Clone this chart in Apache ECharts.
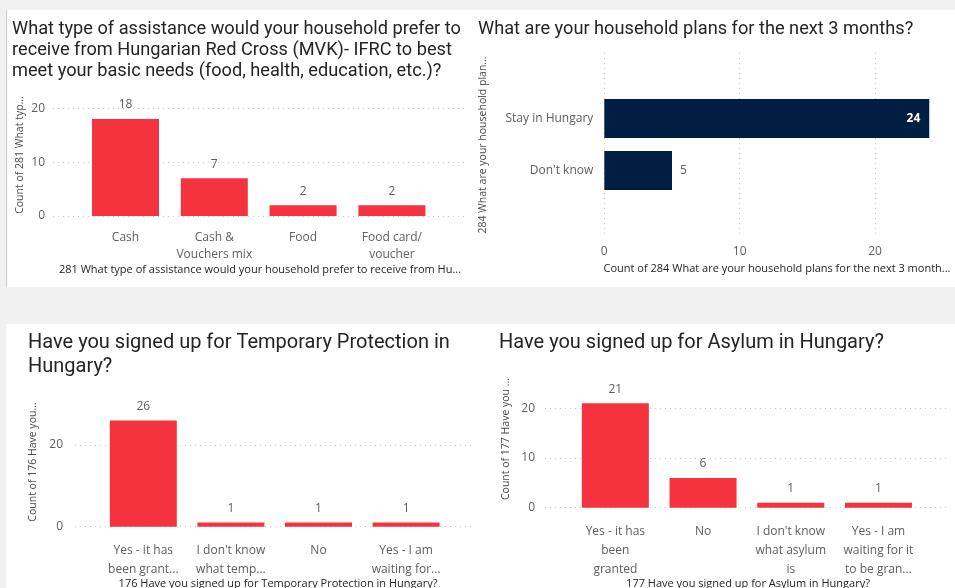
<!DOCTYPE html>
<html>
<head>
<meta charset="utf-8">
<script src="https://cdn.jsdelivr.net/npm/echarts@6/dist/echarts.min.js"></script>
<style>
  html, body { margin: 0; padding: 0; background: #f0f0f0; }
  #main { width: 955px; height: 588px; }
</style>
</head>
<body>
<div id="main"></div>
<script>
// Survey answers, one set of arrays per visual
const assistCategories = ['Cash', 'Cash &\nVouchers mix', 'Food', 'Food card/\nvoucher'];
const assistCounts = [18, 7, 2, 2];

const planCategories = ['Stay in Hungary', "Don't know"];
const planCounts = [24, 5];

const tempCategories = ['Yes - it has\nbeen grant...', "I don't know\nwhat temp...", 'No', 'Yes - I am\nwaiting for...'];
const tempCounts = [26, 1, 1, 1];

const asylumCategories = ['Yes - it has\nbeen\ngranted', 'No', "I don't know\nwhat asylum\nis", 'Yes - I am\nwaiting for it\nto be gran...'];
const asylumCounts = [21, 6, 1, 1];

const titles = [
  'What type of assistance would your household prefer to\nreceive from Hungarian Red Cross (MVK)- IFRC to best\nmeet your basic needs (food, health, education, etc.)?',
  'What are your household plans for the next 3 months?',
  'Have you signed up for Temporary Protection in\nHungary?',
  'Have you signed up for Asylum in Hungary?'
];
const xAxisTitles = [
  '281 What type of assistance would your household prefer to receive from Hu...',
  'Count of 284 What are your household plans for the next 3 month...',
  '176 Have you signed up for Temporary Protection in Hungary?',
  '177 Have you signed up for Asylum in Hungary?'
];
const yAxisTitles = [
  'Count of 281 What typ...',
  '284 What are your household plan...',
  'Count of 176 Have you...',
  'Count of 177 Have you ...'
];

const RED = '#F5333F';
const NAVY = '#001E42';
const LABEL = '#605E5C';
const TITLE = '#252423';
const FONT = "'Segoe UI', 'Open Sans', sans-serif";
const TITLE_FONT = "Roboto, 'Noto Sans', sans-serif";

const chart = echarts.init(document.getElementById('main'), null, { renderer: 'canvas' });

const dotted = { show: true, lineStyle: { type: [1, 4], color: '#c8c8c8', width: 1 } };
const hidden = { show: false };

function gridAxisValue(gridIndex, max, interval, margin) {
  return {
    type: 'value', gridIndex, min: 0, max, interval,
    axisLine: hidden, axisTick: hidden,
    splitLine: dotted,
    axisLabel: { color: LABEL, fontSize: 12, fontFamily: FONT, margin }
  };
}
function hiddenValue(gridIndex, max) {
  return { type: 'value', gridIndex, min: 0, max, show: false, splitLine: hidden };
}
function categoryAxis(gridIndex, data, margin, lineHeight) {
  return {
    type: 'category', gridIndex, data,
    axisLine: hidden, axisTick: hidden, splitLine: hidden,
    axisLabel: { color: LABEL, fontSize: 12, fontFamily: FONT, margin, lineHeight, interval: 0 }
  };
}
function columnSeries(axisIndex, data) {
  return {
    type: 'bar', xAxisIndex: axisIndex, yAxisIndex: axisIndex,
    data, barWidth: 67,
    itemStyle: { color: RED },
    label: { show: true, position: 'top', distance: 8, color: LABEL, fontSize: 12, fontFamily: FONT }
  };
}
function panelTitle(text, left, top, size, lineHeight) {
  return {
    text, left, top, padding: 0,
    textStyle: { color: TITLE, fontSize: size, fontWeight: 'normal', fontFamily: TITLE_FONT, lineHeight }
  };
}

const option = {
  backgroundColor: '#f0f0f0',
  animation: false,
  title: [
    panelTitle(titles[0], 12, 18.5, 18.2, 21.2),
    panelTitle(titles[1], 478, 18.5, 18.2, 21.2),
    panelTitle(titles[2], 28, 331.3, 20, 24),
    panelTitle(titles[3], 499, 331.3, 20, 24)
  ],
  grid: [
    { left: 53, top: 108.3, width: 412, height: 107.7 },          // 0: assistance gridlines
    { left: 81.1, top: 108.3, width: 355.2, height: 107.7 },      // 1: assistance bars
    { left: 604.3, top: 53, width: 270.8, height: 185 },          // 2: plans gridlines
    { left: 604.3, top: 92.5, width: 338.5, height: 104 },        // 3: plans bars
    { left: 75, top: 445, width: 400, height: 81.7 },             // 4: temporary protection gridlines
    { left: 99.5, top: 404.2, width: 350.4, height: 122.5 },      // 5: temporary protection bars
    { left: 545, top: 408.3, width: 403, height: 99.4 },          // 6: asylum gridlines
    { left: 571.5, top: 358.6, width: 350.8, height: 149.1 }      // 7: asylum bars
  ],
  xAxis: [
    hiddenValue(0, 1),
    categoryAxis(1, assistCategories, 12.5, 17.5),
    gridAxisValue(2, 20, 10, 8),
    hiddenValue(3, 25),
    hiddenValue(4, 1),
    categoryAxis(5, tempCategories, 14, 19),
    hiddenValue(6, 1),
    categoryAxis(7, asylumCategories, 14, 19)
  ],
  yAxis: [
    gridAxisValue(0, 20, 10, 8),
    hiddenValue(1, 20),
    hiddenValue(2, 1),
    Object.assign(categoryAxis(3, planCategories, 11, 14), { inverse: true }),
    gridAxisValue(4, 20, 20, 12),
    hiddenValue(5, 30),
    gridAxisValue(6, 20, 10, 10),
    hiddenValue(7, 30)
  ],
  series: [
    columnSeries(1, assistCounts),
    {
      type: 'bar', xAxisIndex: 3, yAxisIndex: 3,
      barWidth: 39,
      itemStyle: { color: NAVY },
      data: planCounts.map(v => ({
        value: v,
        label: v > 10
          ? { position: 'insideRight', distance: 9, color: '#ffffff', fontWeight: 'bold' }
          : { position: 'right', distance: 8, color: LABEL }
      })),
      label: { show: true, fontSize: 12, fontFamily: FONT }
    },
    columnSeries(5, tempCounts),
    columnSeries(7, asylumCounts)
  ],
  graphic: [
    { type: 'rect', z: -10, shape: { x: 7, y: 10, width: 948, height: 277 }, style: { fill: '#ffffff' } },
    { type: 'rect', z: -10, shape: { x: 6, y: 324, width: 949, height: 264 }, style: { fill: '#ffffff' } },
    { type: 'rect', z: -9, shape: { x: 6, y: 10, width: 1.2, height: 277 }, style: { fill: '#d2d2d2' } }
  ].concat(
    [[260, 270], [777, 268.5], [278, 583.5], [748, 583.5]].map((p, i) => ({
      type: 'text', x: p[0], y: p[1],
      style: {
        text: xAxisTitles[i], fill: TITLE, font: '11px ' + FONT,
        align: 'center', verticalAlign: 'middle', textAlign: 'center', textVerticalAlign: 'middle'
      }
    })),
    [[20, 155], [483, 145], [33, 462], [506, 439]].map((p, i) => ({
      type: 'text', x: p[0], y: p[1], rotation: Math.PI / 2,
      style: {
        text: yAxisTitles[i], fill: '#4a4a4a', font: '10.5px ' + FONT,
        align: 'center', verticalAlign: 'middle', textAlign: 'center', textVerticalAlign: 'middle'
      }
    }))
  )
};

chart.setOption(option);
</script>
</body>
</html>
